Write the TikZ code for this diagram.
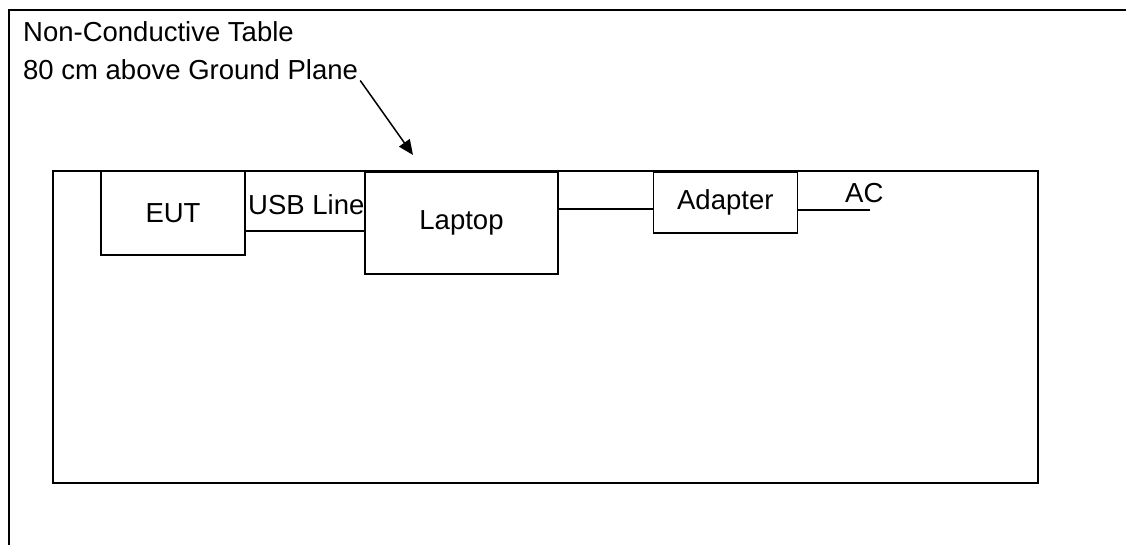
\documentclass[tikz,border=0pt]{standalone}
\usepackage{fontspec}
\setmainfont{Liberation Sans}
\usetikzlibrary{arrows.meta}
\begin{document}
\begin{tikzpicture}[x=1pt,y=-1pt,
  txt/.style={inner sep=0pt,font=\fontsize{27.5}{33}\selectfont},
  dev/.style={draw,line width=1.5pt,inner sep=0pt,font=\fontsize{27.5}{33}\selectfont},
  wire/.style={line width=1.5pt}]
\useasboundingbox (0,0) rectangle (1126,545);
% outer frame (left and top edges)
\draw[line width=2pt] (9,545) -- (9,10) -- (1126,10);
% table
\draw[line width=1.8pt] (53,171) rectangle (1038,483);
% texts
\node[txt,anchor=base west] (lbl1) at (23,41.7) {Non-Conductive Table};
\node[txt,anchor=base west] (lbl2) at (23,80) {80 cm above Ground Plane};
% devices
\node[dev,minimum width=144pt,minimum height=84pt] (eut) at (173,213) {EUT};
\node[dev,minimum width=193pt,minimum height=102pt] (laptop) at (461.5,223) {Laptop};
\node[dev,minimum width=144pt,minimum height=61pt] (adapter) at (725.3,202.3) {Adapter};
% connectors
\draw[wire] ([yshift=-18pt]eut.east) coordinate (u1) -- (u1 -| laptop.west);
\draw[wire] ([yshift=14pt]laptop.east) coordinate (l1) -- (l1 -| adapter.west);
\coordinate (acend) at (870,210);
\draw[wire] (adapter.east |- acend) -- (acend);
\node[txt,anchor=base west] (usb) at (248,215) {USB Line};
\node[txt,anchor=base west] (ac) at (845,202.5) {AC};
% arrow
\coordinate (tip) at (413,155);
\draw[line width=1.5pt,-{Triangle[length=15pt,width=13pt]}] ([xshift=2pt]lbl2.south east) -- (tip);
\end{tikzpicture}
\end{document}
